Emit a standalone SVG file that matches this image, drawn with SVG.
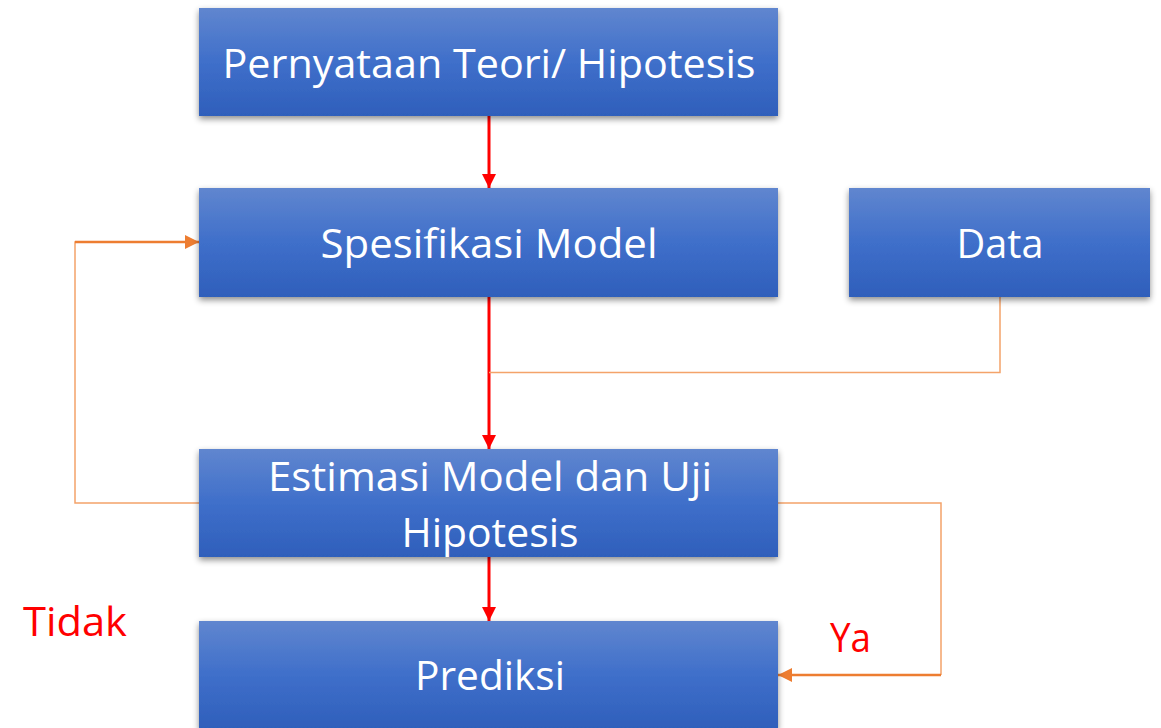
<svg xmlns="http://www.w3.org/2000/svg" width="1161" height="728" viewBox="0 0 1161 728">
<defs>
<linearGradient id="g" x1="0" y1="0" x2="0" y2="1">
<stop offset="0" stop-color="#6086cf"/>
<stop offset="0.5" stop-color="#3f6fca"/>
<stop offset="1" stop-color="#2f5fbb"/>
</linearGradient>
<filter id="sh" x="-5%" y="-10%" width="110%" height="130%">
<feDropShadow dx="0" dy="3" stdDeviation="3" flood-color="#000" flood-opacity="0.45"/>
</filter>
<marker id="ar" viewBox="0 0 10 10" refX="10" refY="5" markerWidth="14" markerHeight="14" markerUnits="userSpaceOnUse" orient="auto">
<path d="M0,0 L10,5 L0,10 Z" fill="#ff0000"/>
</marker>
<marker id="ao" viewBox="0 0 10 10" refX="10" refY="5" markerWidth="14" markerHeight="14" markerUnits="userSpaceOnUse" orient="auto">
<path d="M0,0 L10,5 L0,10 Z" fill="#ed7d31"/>
</marker>
</defs>
<style>
.box{fill:url(#g);filter:url(#sh);}
.t{font-family:"Open Sans","Noto Sans",sans-serif;font-size:40px;fill:#ffffff;text-anchor:middle;}
.lbl{font-family:"Open Sans","Noto Sans",sans-serif;font-size:40px;fill:#ff0000;}
.red{stroke:#ff0000;stroke-width:3;fill:none;}
.thin{stroke:#f4a36a;stroke-width:1.5;fill:none;}
.thick{stroke:#ed7d31;stroke-width:2.5;fill:none;}
</style>
<rect width="1161" height="728" fill="#ffffff"/>
<g id="connectors">
<line class="red" x1="489" y1="116" x2="489" y2="188" marker-end="url(#ar)"/>
<line class="red" x1="489" y1="297" x2="489" y2="449" marker-end="url(#ar)"/>
<line class="red" x1="489" y1="557" x2="489" y2="621" marker-end="url(#ar)"/>
<polyline class="thin" points="1000,297 1000,372.5 489,372.5"/>
<polyline class="thin" points="199,503 75,503 75,242 120,242"/>
<line class="thick" x1="75" y1="242" x2="199" y2="242" marker-end="url(#ao)"/>
<polyline class="thin" points="778,503 941,503 941,675"/>
<line class="thick" x1="941" y1="675" x2="778" y2="675" marker-end="url(#ao)"/>
</g>
<g id="n1">
<rect class="box" x="199" y="8" width="579" height="108"/>
<text class="t" x="489" y="78" textLength="533" lengthAdjust="spacingAndGlyphs">Pernyataan Teori/ Hipotesis</text>
</g>
<g id="n2">
<rect class="box" x="199" y="188" width="579" height="109"/>
<text class="t" x="489" y="258" textLength="337" lengthAdjust="spacingAndGlyphs">Spesifikasi Model</text>
</g>
<g id="n3">
<rect class="box" x="849" y="188" width="301" height="109"/>
<text class="t" x="1000" y="258" textLength="87" lengthAdjust="spacingAndGlyphs">Data</text>
</g>
<g id="n4">
<rect class="box" x="199" y="449" width="579" height="108"/>
<text class="t" x="490" y="491" textLength="444" lengthAdjust="spacingAndGlyphs">Estimasi Model dan Uji</text>
<text class="t" x="490" y="547" textLength="177" lengthAdjust="spacingAndGlyphs">Hipotesis</text>
</g>
<g id="n5">
<rect class="box" x="199" y="621" width="579" height="108"/>
<text class="t" x="490" y="690" textLength="150" lengthAdjust="spacingAndGlyphs">Prediksi</text>
</g>
<text class="lbl" x="23" y="636" textLength="104" lengthAdjust="spacingAndGlyphs">Tidak</text>
<text class="lbl" x="830" y="652" textLength="41" lengthAdjust="spacingAndGlyphs">Ya</text>
</svg>
